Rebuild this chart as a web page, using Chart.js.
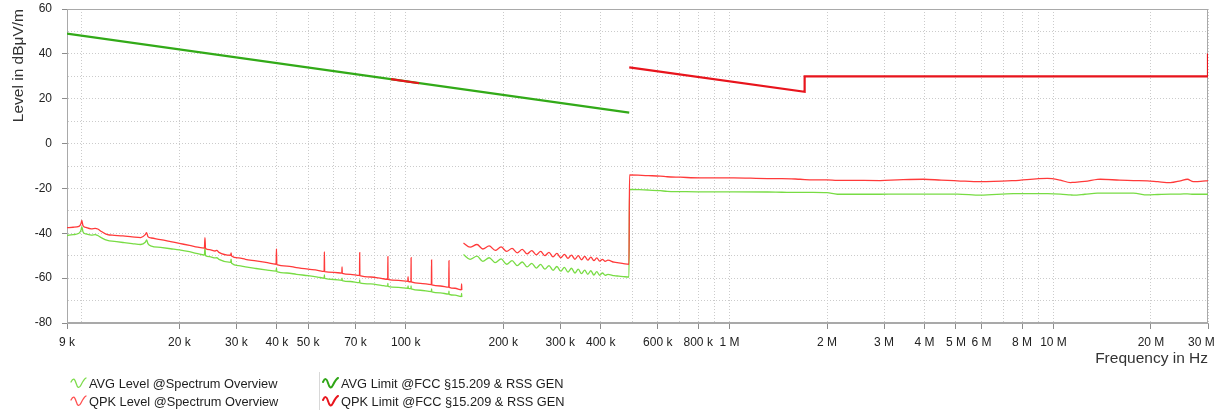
<!DOCTYPE html>
<html>
<head>
<meta charset="utf-8">
<script src="https://cdn.jsdelivr.net/npm/chart.js@4.4.1/dist/chart.umd.min.js"></script>
<style>
  html, body { margin: 0; padding: 0; background: #ffffff; }
  #wrap { position: relative; width: 1220px; height: 412px; overflow: hidden; background: #fff; }
  #c { position: absolute; left: 0; top: 0; }
  .leg { position: absolute; font-family: "Liberation Sans", Arial, sans-serif; font-size: 12.8px; color: #1e1e1e; white-space: nowrap; line-height: 16px; height: 16px; }
  .leg svg { position: absolute; left: 0; top: 1px; }
  .leg span { position: absolute; left: 19px; top: 0; }
  #sep { position: absolute; left: 319px; top: 372px; width: 1px; height: 38px; background: #d8d8d8; }
</style>
</head>
<body>
<div id="wrap">
  <canvas id="c" width="1220" height="412"></canvas>
  <div id="legend"></div>
</div>
<script>
// ---------------- data ----------------
// Frequencies (Hz) shared by both measured traces (null = gap in trace)
const levelFreqHz = [
  9000, 9400, 9800, 9950, 10000, 10080, 10300, 10700, 11000, 11200,
  11500, 12000, 12600, 13400, 14300, 15200, 15700, 15850, 16000, 16400,
  17500, 18800, 20000, 21500, 22800, 23900, 24000, 24100, 24800, 25800,
  26100, 26500, 28800, 28900, 29000, 30500, 32000, 34500, 37000, 39800,
  39900, 40000, 43000, 46000, 50000, 53500, 56000, 56100, 56200, 60000,
  63500, 63600, 63700, 67500, 72000, 72100, 72200, 78000, 84000, 88000,
  88100, 88200, 95000, 101500, 101700, 101900, 103800, 103900, 104000, 111000,
  120000, 120200, 120400, 128000, 135800, 136000, 136200, 142000, 148500, 148800,
  149000, 150000,
  150800, 158000, 166000, 173000, 181000, 189000, 197000, 205000, 213000, 221000,
  229000, 237000, 245000, 253000, 261000, 269000, 277000, 285000, 293000, 301000,
  309000, 317000, 325000, 333000, 341000, 349000, 357000, 365000, 373000, 381000,
  389000, 397000, 405000, 413000, 421000, 440000, 455000, 470000, 489000,
  491000, 560000, 611000, 642000, 704000, 811000, 1030000, 1310000, 1450000, 1650000,
  1810000, 2000000, 2150000, 2300000, 2920000, 3300000, 3970000, 4500000, 5050000, 5950000,
  7520000, 9580000, 10500000, 11280000, 11520000, 12500000, 13670000, 13960000, 16000000, 17650000,
  19500000, 21000000, 22960000, 24660000, 25900000, 27040000, 28500000, 30000000
];

// QPK Level @Spectrum Overview (dBµV/m)
const qpkLevelDb = [
  -37.5, -37.3, -36.9, -35.5, -34.3, -36.5, -37.4, -38.0, -37.8, -38.1,
  -39.2, -40.6, -40.9, -41.2, -41.6, -41.9, -40.6, -39.7, -41.5, -42.1,
  -42.8, -43.7, -44.5, -45.4, -46.2, -46.6, -42.0, -46.8, -47.3, -47.9,
  -47.6, -48.5, -49.8, -48.8, -50.1, -51.0, -51.6, -52.3, -53.0, -53.8,
  -47.0, -54.0, -54.6, -55.3, -56.0, -56.5, -57.0, -48.2, -57.1, -57.4,
  -57.8, -55.0, -57.9, -58.3, -58.8, -48.6, -58.9, -59.5, -60.1, -60.5,
  -50.4, -60.6, -61.0, -61.4, -59.3, -61.5, -61.6, -50.9, -61.7, -62.3,
  -62.9, -51.9, -63.0, -63.5, -64.0, -52.2, -64.1, -64.5, -65.2, -62.6,
  -65.3, null,
  -44.4, -46.2, -45.0, -47.0, -45.6, -47.6, -46.1, -48.1, -46.7, -48.7,
  -47.2, -49.2, -47.7, -49.6, -48.1, -50.0, -48.5, -50.5, -49.0, -50.9,
  -49.4, -51.2, -49.7, -51.6, -50.0, -51.8, -50.3, -52.0, -50.6, -52.2,
  -51.0, -52.4, -51.6, -52.5, -52.0, -52.9, -53.2, -53.5, -53.8,
  -14.0, -14.3, -14.5, -14.8, -15.0, -15.3, -15.3, -15.6, -15.6, -15.9,
  -16.2, -16.2, -16.4, -16.4, -16.5, -16.2, -15.9, -16.3, -16.6, -17.0,
  -16.5, -15.5, -16.3, -17.4, -17.3, -16.9, -16.0, -15.9, -16.3, -16.5,
  -16.6, -17.0, -17.4, -16.6, -15.9, -17.0, -16.9, -16.5
];

// AVG Level @Spectrum Overview (dBµV/m)
const avgLevelDb = [
  -41.0, -40.6, -40.0, -38.5, -37.0, -39.3, -40.3, -40.8, -40.6, -41.0,
  -42.0, -43.2, -43.6, -44.1, -44.6, -45.0, -44.0, -43.0, -44.6, -45.7,
  -46.3, -46.9, -47.4, -48.2, -49.1, -49.7, -46.5, -50.0, -50.4, -51.0,
  -50.9, -51.6, -53.0, -51.5, -53.4, -54.4, -55.0, -55.7, -56.3, -56.9,
  -55.5, -57.1, -57.7, -58.3, -58.9, -59.5, -60.0, -58.5, -60.1, -60.6,
  -61.0, -60.0, -61.1, -61.5, -62.0, -60.8, -62.1, -62.6, -63.2, -63.6,
  -62.3, -63.7, -64.1, -64.5, -63.5, -64.6, -64.7, -63.5, -64.8, -65.4,
  -66.0, -64.8, -66.1, -66.6, -67.1, -65.8, -67.2, -67.6, -68.2, -66.8,
  -68.4, null,
  -49.5, -51.6, -50.2, -52.5, -50.9, -53.1, -51.4, -53.8, -52.2, -54.4,
  -52.8, -55.0, -53.4, -55.5, -53.9, -56.0, -54.4, -56.5, -54.8, -56.9,
  -55.2, -57.3, -55.6, -57.7, -56.0, -58.0, -56.4, -58.3, -56.7, -58.6,
  -57.1, -58.7, -57.7, -58.8, -58.3, -58.9, -59.1, -59.3, -59.5,
  -20.4, -20.7, -21.0, -21.3, -21.4, -21.5, -21.5, -21.6, -21.7, -21.8,
  -21.8, -21.9, -22.6, -22.6, -22.6, -22.5, -22.5, -22.5, -22.5, -23.0,
  -22.3, -22.3, -22.5, -22.9, -23.0, -22.6, -22.1, -22.1, -22.1, -22.1,
  -22.9, -22.7, -22.5, -22.5, -22.4, -22.6, -22.6, -22.6
];

// AVG Limit @FCC §15.209 & RSS GEN
const avgLimitFreqHz = [9000, 490000];
const avgLimitDb = [49.0, 13.8];

// QPK Limit @FCC §15.209 & RSS GEN (null = gap)
const qpkLimitFreqHz = [90000, 110000, 300000, 490000, 1705000, 1705000, 30000000, 30000000];
const qpkLimitDb = [28.7, 26.9, null, 34.0, 23.1, 30.0, 30.0, 40.2];

// Axis ticks
const xTickHz = [9000, 20000, 30000, 40000, 50000, 70000, 100000, 200000, 300000, 400000,
                 600000, 800000, 1000000, 2000000, 3000000, 4000000, 5000000, 6000000, 8000000,
                 10000000, 20000000, 30000000];
const xTickLabels = ['9 k', '20 k', '30 k', '40 k', '50 k', '70 k', '100 k', '200 k', '300 k', '400 k',
                     '600 k', '800 k', '1 M', '2 M', '3 M', '4 M', '5 M', '6 M', '8 M',
                     '10 M', '20 M', '30 M'];
const yTickValues = [-80, -60, -40, -20, 0, 20, 40, 60];
const yTickLabels = ['-80', '-60', '-40', '-20', '0', '20', '40', '60'];

const legendItems = [
  { text: 'AVG Level @Spectrum Overview', color: '#7ddc4c', width: 1.3, left: 70, top: 376 },
  { text: 'QPK Level @Spectrum Overview', color: '#ff4f4f', width: 1.3, left: 70, top: 394 },
  { text: 'AVG Limit @FCC §15.209 & RSS GEN', color: '#2fa516', width: 2, left: 322, top: 376 },
  { text: 'QPK Limit @FCC §15.209 & RSS GEN', color: '#e8141c', width: 2, left: 322, top: 394 }
];

// ---------------- chart ----------------
const FONT = '"Liberation Sans", Arial, sans-serif';
const toPts = (fs, ds) => fs.map((f, i) => ({ x: f, y: ds[i] }));

// vertical grid at every n*10^k within range
const xGridHz = [9000];
for (const dec of [10000, 100000, 1000000, 10000000]) {
  for (let n = 1; n <= 9; n++) {
    const v = n * dec;
    if (v > 9000 && v <= 30000000) xGridHz.push(v);
  }
}

const framePlugin = {
  id: 'frame',
  beforeDatasetsDraw(chart) {
    const { left, top, right, bottom } = chart.chartArea;
    const ctx = chart.ctx;
    ctx.save();
    ctx.strokeStyle = '#a9a9a9';
    ctx.lineWidth = 1;
    ctx.strokeRect(Math.round(left) + 0.5, Math.round(top) + 0.5,
                   Math.round(right - left) - 1, Math.round(bottom - top) - 1);
    ctx.restore();
  }
};

new Chart(document.getElementById('c'), {
  type: 'line',
  data: {
    datasets: [
      { label: legendItems[3].text, data: toPts(qpkLimitFreqHz, qpkLimitDb), borderColor: '#e8141c',
        borderWidth: 2.2, order: 0 },
      { label: legendItems[2].text, data: toPts(avgLimitFreqHz, avgLimitDb), borderColor: '#32aa18',
        borderWidth: 2.2, order: 1 },
      { label: legendItems[1].text, data: toPts(levelFreqHz, qpkLevelDb), borderColor: '#ff3a3a',
        borderWidth: 1.3, order: 2, cubicInterpolationMode: 'monotone', tension: 0.4 },
      { label: legendItems[0].text, data: toPts(levelFreqHz, avgLevelDb), borderColor: '#78dc44',
        borderWidth: 1.3, order: 3, cubicInterpolationMode: 'monotone', tension: 0.4 }
    ]
  },
  options: {
    responsive: false,
    animation: false,
    devicePixelRatio: 1,
    spanGaps: false,
    elements: { point: { radius: 0, hoverRadius: 0 }, line: { tension: 0, fill: false } },
    layout: { padding: { left: 0, right: 12, top: 9, bottom: 44 } },
    plugins: { legend: { display: false }, tooltip: { enabled: false } },
    events: [],
    scales: {
      x: {
        type: 'logarithmic',
        min: 9000,
        max: 30000000,
        afterBuildTicks: (s) => { s.ticks = xGridHz.map(v => ({ value: v })); },
        afterFit: (s) => { s.height = 45; s.paddingLeft = 0; s.paddingRight = 0; },
        ticks: {
          autoSkip: false, maxRotation: 0, minRotation: 0, padding: 6,
          color: '#222', font: { family: FONT, size: 12 },
          callback: (v) => {
            const i = xTickHz.indexOf(v);
            if (i < 0) return '';
            // last label kept inside the canvas (trailing spaces shift the centred text left)
            return i === xTickHz.length - 1 ? xTickLabels[i] + '    ' : xTickLabels[i];
          }
        },
        grid: {
          color: '#cbcbcb', lineWidth: 1, tickLength: 6,
          tickColor: (c) => (c.tick && xTickHz.includes(c.tick.value)) ? '#8c8c8c' : 'rgba(0,0,0,0)',
          tickBorderDash: []
        },
        border: { display: true, color: '#a9a9a9', dash: [1, 2] },
        title: {
          display: true, text: 'Frequency in Hz', align: 'end', color: '#333',
          font: { family: FONT, size: 15.5 }, padding: { top: 0, bottom: 0 }
        }
      },
      y: {
        type: 'linear',
        min: -80,
        max: 60,
        afterFit: (s) => { s.width = 67; s.paddingTop = 0; s.paddingBottom = 0; },
        ticks: {
          stepSize: 5, padding: 10, color: '#222', font: { family: FONT, size: 12 },
          callback: (v) => { const i = yTickValues.indexOf(v); return i >= 0 ? yTickLabels[i] : ''; }
        },
        grid: {
          color: '#cbcbcb', lineWidth: 1, tickLength: 5,
          tickColor: (c) => (c.tick && yTickValues.includes(c.tick.value)) ? '#8c8c8c' : 'rgba(0,0,0,0)',
          tickBorderDash: []
        },
        border: { display: true, color: '#a9a9a9', dash: [1, 2] },
        title: {
          display: true, text: 'Level in dBμV/m', align: 'end', color: '#333',
          font: { family: FONT, size: 15.5 }, padding: { top: 9, bottom: 0 }
        }
      }
    }
  },
  plugins: [framePlugin]
});

// ---------------- legend (HTML text) ----------------
const legend = document.getElementById('legend');
const sep = document.createElement('div');
sep.id = 'sep';
legend.appendChild(sep);
for (const it of legendItems) {
  const d = document.createElement('div');
  d.className = 'leg';
  d.style.left = it.left + 'px';
  d.style.top = it.top + 'px';
  d.innerHTML = '<svg width="17" height="14" viewBox="0 0 17 14"><path d="M1 5 C3 1 4.5 1 6 6 C7.5 11 9 12 11 8 C12.5 5 14 2 16 1" fill="none" stroke="' +
    it.color + '" stroke-width="' + it.width + '" stroke-linecap="round"/></svg>';
  const s = document.createElement('span');
  s.textContent = it.text;
  d.appendChild(s);
  legend.appendChild(d);
}
</script>
</body>
</html>
